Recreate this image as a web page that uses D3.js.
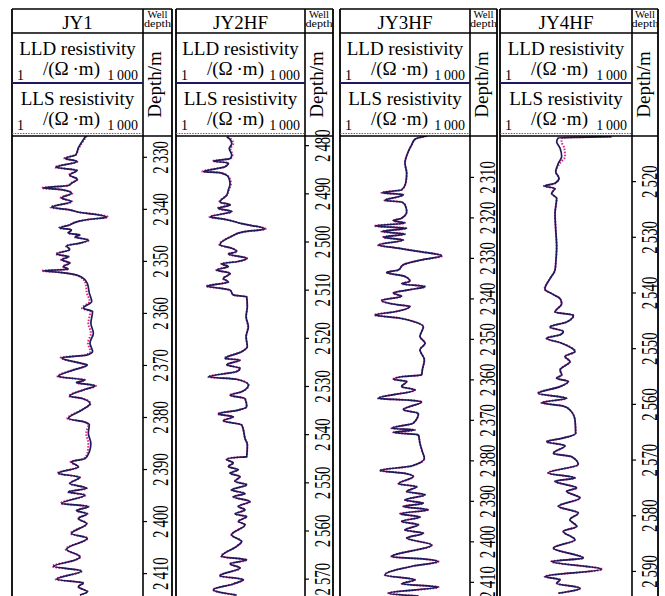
<!DOCTYPE html>
<html>
<head>
<meta charset="utf-8">
<script src="https://cdn.jsdelivr.net/npm/d3@7"></script>
<style>
  body { margin: 0; background: #fff; }
  svg { display: block; }
  svg text { font-family: "Liberation Serif", "Nimbus Roman", "DejaVu Serif", "Times New Roman", serif; }
</style>
</head>
<body>
<div id="chart"></div>
<script>
// well names, visible depth window (m) and depth tick labels
const wellNames = ['JY1', 'JY2HF', 'JY3HF', 'JY4HF'];
const depthWindows = [[2326, 2414.4], [2478.1, 2573.6], [2299.9, 2413.5], [2511.9, 2594.5]];
const depthTicks = [
    [2330, 2340, 2350, 2360, 2370, 2380, 2390, 2400, 2410],
    [2480, 2490, 2500, 2510, 2520, 2530, 2540, 2550, 2560, 2570],
    [2310, 2320, 2330, 2340, 2350, 2360, 2370, 2380, 2390, 2400, 2410],
    [2520, 2530, 2540, 2550, 2560, 2570, 2580, 2590]
];
const resistivityRange = [1, 1000];

// [depth m, LLD ohm.m, LLS ohm.m]
const jy1Log = [
    [2326.0, 49.5, 52], [2326.7, 43, 45], [2328.3, 33, 34], [2329.6, 29, 29], [2330.3, 16.4, 15.8],
    [2330.9, 31, 32], [2332.0, 10.2, 9.6], [2332.6, 31, 31], [2333.5, 21, 20], [2334.3, 31, 32],
    [2335.1, 23, 22], [2335.5, 19.5, 19], [2336.0, 5.2, 4.8], [2336.3, 13.7, 13], [2337.0, 23, 24],
    [2337.9, 13.7, 13], [2338.6, 23, 24], [2339.7, 8.1, 7.6], [2340.2, 21, 21], [2340.7, 36, 37],
    [2341.0, 73, 76], [2341.6, 148, 158], [2342.0, 61, 63], [2342.4, 33, 33], [2343.1, 21, 20],
    [2343.7, 12.5, 11.8], [2344.0, 23, 23], [2344.7, 19.5, 19], [2345.0, 36, 37], [2345.4, 28, 27],
    [2346.0, 56, 58], [2346.6, 36, 36], [2347.1, 17.8, 17], [2347.8, 21, 21], [2348.7, 10.5, 10],
    [2349.2, 19.5, 20], [2349.8, 13.7, 13.2], [2350.4, 21, 21], [2351.1, 15, 14.5], [2351.6, 19.5, 19],
    [2351.9, 5.2, 4.8], [2352.2, 12.5, 12], [2352.5, 23, 22], [2353.1, 39, 37], [2354.3, 53, 48],
    [2356.2, 59, 52], [2357.8, 67, 60], [2359.1, 43, 40], [2359.7, 70, 62], [2362.0, 64, 56],
    [2363.9, 73, 64], [2365.8, 61, 55], [2367.4, 70, 62], [2368.1, 51, 47], [2368.6, 13.7, 13],
    [2369.7, 39, 38], [2370.0, 53, 52], [2371.0, 25, 24], [2372.2, 11.5, 11], [2372.9, 47, 47],
    [2373.4, 30, 30], [2374.0, 80, 84], [2374.8, 43, 43], [2376.0, 21, 20], [2376.4, 39, 39],
    [2377.4, 61, 63], [2378.7, 39, 38], [2380.3, 19.5, 18.5], [2380.9, 43, 42], [2381.5, 59, 56],
    [2383.1, 56, 50], [2385.1, 64, 56], [2386.7, 59, 54], [2388.0, 47, 45], [2388.6, 23, 22],
    [2389.6, 33, 33], [2390.8, 11.5, 11], [2391.6, 36, 36], [2392.8, 21, 21], [2393.7, 51, 52],
    [2394.4, 19.5, 19], [2395.0, 47, 48], [2396.6, 13.7, 13], [2397.2, 56, 57], [2398.0, 30, 30],
    [2398.6, 53, 54], [2399.5, 33, 33], [2400.5, 51, 52], [2402.4, 23, 22], [2403.3, 53, 54],
    [2405.4, 17.8, 17], [2406.9, 36, 37], [2407.5, 28, 28], [2408.7, 8.9, 8.4], [2409.6, 39, 40],
    [2411.2, 10.5, 10], [2411.9, 43, 44], [2412.6, 33, 33], [2413.6, 53, 54], [2414.2, 36, 36]
];

const jy2Log = [
    [2478.3, 15.1, 16], [2478.8, 18.1, 19.5], [2479.7, 19.8, 21.5], [2480.7, 17.3, 18.5], [2482.1, 19.8, 20.5],
    [2482.8, 18.1, 18.5], [2483.3, 7.4, 7.1], [2483.7, 16.5, 16.5], [2484.5, 13.8, 13.6], [2485.5, 4.3, 4.1],
    [2485.7, 10.5, 10.3], [2486.6, 16.5, 16.8], [2488.0, 18.1, 19], [2489.3, 16.5, 17], [2490.4, 15.1, 15.1],
    [2491.8, 10.5, 10.2], [2492.4, 18.1, 18.1], [2493.1, 9.6, 9.3], [2493.8, 19.8, 19.8], [2494.9, 6.2, 6.0],
    [2495.4, 13.8, 13.8], [2496.3, 33.7, 34], [2497.4, 117, 122], [2498.0, 36.8, 37], [2498.9, 19.8, 19.8],
    [2500.7, 10.5, 10.2], [2501.4, 19.8, 19.8], [2502.1, 25.7, 26], [2502.6, 16.5, 16.3], [2503.5, 44.1, 45],
    [2504.2, 25.7, 25.7], [2504.6, 11.5, 11.2], [2505.2, 16.5, 16.5], [2505.9, 8.8, 8.6], [2506.6, 18.1, 18.3],
    [2507.7, 12.6, 12.4], [2508.4, 16.5, 16.5], [2509.3, 5.2, 5.0], [2509.7, 10.5, 10.5], [2510.1, 18.1, 18.1],
    [2511.1, 21.5, 21.5], [2511.5, 44.1, 44], [2513.5, 45.6, 45], [2515.6, 42.6, 43], [2517.7, 48.2, 47],
    [2519.8, 42.6, 43], [2521.8, 45.6, 45], [2522.9, 33.7, 33], [2524.3, 13.8, 13.4], [2524.6, 30.8, 30.8],
    [2525.6, 15.1, 15], [2526.3, 30.8, 31], [2527.0, 25.7, 25.7], [2528.1, 5.7, 5.5], [2528.6, 25.7, 25.7],
    [2529.8, 48.2, 49], [2531.2, 33.7, 33.7], [2531.9, 18.1, 18], [2532.6, 40.3, 40.3], [2534.3, 44.1, 44],
    [2535.0, 28.1, 28], [2535.8, 9.6, 9.3], [2536.4, 21.5, 21.5], [2537.2, 12.6, 12.4], [2538.1, 33.7, 33.7],
    [2539.1, 36.8, 36.8], [2540.9, 40.3, 40.3], [2542.2, 45.6, 45.6], [2544.7, 44.1, 44], [2544.8, 28.1, 28],
    [2545.2, 15.1, 14.8], [2546.0, 21.5, 21.5], [2546.7, 16.5, 16.3], [2547.4, 28.1, 28.1], [2548.1, 18.1, 18],
    [2548.8, 30.8, 30.8], [2549.8, 23.5, 23.5], [2550.5, 44.1, 45], [2551.6, 19.6, 19.4], [2552.3, 40.3, 40.3],
    [2553.0, 21.5, 21.5], [2554.0, 52.7, 53], [2555.0, 28.1, 28.1], [2555.7, 40.3, 40.3], [2556.6, 23.5, 23.5],
    [2557.1, 44.1, 44.1], [2558.1, 28.1, 28.1], [2558.8, 40.3, 40.3], [2560.9, 19.6, 19.4], [2562.3, 33.7, 33.7],
    [2563.3, 25.7, 25.7], [2565.4, 11.5, 11.2], [2566.1, 44.1, 44.5], [2566.9, 18.1, 18], [2567.8, 30.8, 30.8],
    [2569.4, 10.5, 10.2], [2570.2, 36.8, 37], [2571.1, 21.5, 21.5], [2572.3, 7.4, 7.2], [2573.4, 25.7, 25.7]
];

const jy3Log = [
    [2299.9, 100, 102], [2300.7, 53.8, 54], [2302.1, 45.0, 45], [2303.7, 37.8, 38], [2306.6, 31.6, 31.6],
    [2309.1, 34.6, 34.6], [2311.6, 32.7, 32.7], [2313.2, 26.4, 26.4], [2313.9, 9.2, 9.0], [2314.4, 28.9, 28.9],
    [2314.9, 22.2, 22.2], [2315.8, 10.9, 10.6], [2316.2, 26.4, 26.4], [2316.9, 31.6, 31.6], [2318.6, 34.6, 34.6],
    [2320.2, 26.4, 26.4], [2320.8, 17.0, 17.0], [2321.4, 31.6, 31.6], [2322.1, 6.4, 6.2], [2322.7, 34.6, 34.6],
    [2323.5, 9.2, 9.0], [2324.1, 31.6, 31.6], [2324.9, 10.0, 9.8], [2325.6, 28.9, 28.9], [2326.8, 7.7, 7.5],
    [2327.6, 22.2, 22.2], [2328.4, 64.4, 65], [2329.5, 222, 230], [2330.5, 76.6, 77], [2331.7, 28.9, 28.9],
    [2333.0, 22.2, 22.2], [2333.6, 11.9, 11.7], [2334.6, 31.6, 31.6], [2335.8, 41.1, 41.1], [2336.4, 26.4, 26.4],
    [2337.1, 91.6, 93], [2337.9, 37.8, 37.8], [2338.7, 17.0, 16.8], [2339.5, 26.4, 26.4], [2340.5, 9.2, 9.0],
    [2341.6, 22.2, 22.2], [2342.0, 41.1, 41.1], [2343.3, 18.6, 18.6], [2344.1, 6.4, 6.2], [2344.9, 24.3, 24.3],
    [2345.7, 49.2, 49.2], [2347.0, 83.8, 84], [2349.4, 70, 70], [2351.1, 91.6, 92], [2352.7, 70, 70],
    [2355.2, 88.5, 88.5], [2357.7, 79.3, 79.3], [2358.9, 76.6, 76.6], [2359.3, 28.9, 28.9], [2360.0, 17.0, 16.8],
    [2360.5, 34.6, 34.6], [2361.8, 26.4, 26.4], [2362.6, 53.8, 53.8], [2364.7, 7.7, 7.5], [2365.1, 34.6, 34.6],
    [2365.5, 76.6, 77], [2367.5, 28.9, 28.9], [2368.4, 64.4, 64.4], [2370.8, 49.2, 49.2], [2372.1, 15.5, 15.3],
    [2372.5, 53.8, 53.8], [2373.1, 17.0, 17.0], [2373.7, 64.4, 64.4], [2375.8, 70, 70], [2377.8, 79.3, 79.3],
    [2379.5, 88.5, 88.5], [2381.4, 45.0, 45.0], [2382.5, 8.4, 8.2], [2383.2, 31.6, 31.6], [2384.0, 49.2, 49.2],
    [2385.8, 22.2, 22.2], [2386.5, 58.9, 58.9], [2387.7, 34.6, 34.6], [2388.5, 91.6, 92], [2389.8, 31.6, 31.6],
    [2390.6, 83.8, 84], [2391.4, 28.9, 28.9], [2392.2, 109, 110], [2393.2, 24.3, 24.3], [2394.0, 70, 70],
    [2395.1, 26.4, 26.4], [2395.9, 64.4, 64.4], [2397.2, 31.6, 31.6], [2398.0, 83.8, 84], [2399.2, 34.6, 34.6],
    [2400.9, 130, 132], [2403.8, 15.5, 15.3], [2404.4, 91.6, 92], [2405.0, 185, 188], [2406.1, 49.2, 49.2],
    [2408.3, 10.9, 10.7], [2409.5, 53.8, 53.8], [2410.5, 26.4, 26.4], [2411.3, 185, 188], [2412.8, 13.1, 13.0],
    [2413.5, 64.4, 64.4]
];

const jy4Log = [
    [2512.0, 345, 330], [2512.25, 21.2, 26], [2512.9, 19.4, 25], [2514.1, 23.2, 29], [2515.6, 25.2, 30],
    [2516.8, 21.2, 23], [2518.3, 18.5, 18.5], [2519.5, 21.9, 21.9], [2520.4, 17.8, 17.8], [2520.9, 10.2, 9.9],
    [2521.3, 17.8, 17.8], [2522.2, 14.9, 14.9], [2523.1, 19.4, 19.4], [2525.8, 17.8, 17.8], [2528.8, 18.5, 18.5],
    [2531.8, 19.4, 19.4], [2534.2, 18.7, 18.7], [2536.0, 17.8, 17.8], [2537.5, 13.7, 13.7], [2539.4, 10.5, 10.3],
    [2540.2, 14.9, 14.9], [2541.1, 23.2, 23.2], [2542.0, 25.2, 25.2], [2543.5, 17.8, 17.8], [2544.1, 46.6, 47],
    [2545.3, 32.7, 32.7], [2546.2, 13.7, 13.5], [2547.0, 27.5, 27.5], [2547.6, 23.2, 23.2], [2548.2, 11.5, 11.3],
    [2549.1, 25.2, 25.2], [2550.6, 50.6, 51], [2551.5, 29.9, 29.9], [2552.4, 38.9, 38.9], [2553.9, 23.2, 23.2],
    [2554.8, 25.2, 25.2], [2555.4, 19.4, 19.4], [2556.0, 35.8, 35.8], [2556.9, 23.2, 23.2], [2558.1, 7.4, 7.2],
    [2559.0, 32.7, 32.7], [2559.8, 8.9, 8.7], [2560.4, 27.5, 27.5], [2561.1, 38.9, 38.9], [2562.9, 50.6, 50.6],
    [2565.3, 52.4, 52.4], [2566.2, 25.2, 25.2], [2566.8, 11.5, 11.3], [2567.5, 29.9, 29.9], [2568.9, 16.3, 16.3],
    [2569.5, 42.6, 42.6], [2570.9, 60.1, 60.1], [2572.4, 12.5, 12.3], [2573.3, 50.6, 50.6], [2573.9, 17.8, 17.8],
    [2575.1, 55.3, 55.3], [2575.7, 32.7, 32.7], [2576.9, 65.8, 66], [2578.4, 21.2, 21.2], [2579.6, 60.1, 60.1],
    [2580.8, 38.9, 38.9], [2582.0, 55.3, 55.3], [2582.9, 27.5, 27.5], [2584.4, 50.6, 50.6], [2585.9, 16.3, 16.3],
    [2587.7, 78.2, 79], [2588.3, 14.9, 14.7], [2589.7, 204, 210], [2591.0, 10.5, 10.3], [2591.6, 23.2, 23.2],
    [2592.2, 19.4, 19.4], [2593.1, 65.8, 66], [2594.0, 21.2, 21.2]
];

const wellLogs = [jy1Log, jy2Log, jy3Log, jy4Log];

// ---- layout ----
const W = 665, H = 596;
const panels = [
    { left: 12, depth: 143, right: 172 },
    { left: 176, depth: 305, right: 333 },
    { left: 340, depth: 470, right: 497 },
    { left: 500, depth: 632, right: 658 }
];
const frameTop = 9, rowTitle = 33, rowSplit = 83, plotTop = 136, plotBottom = H;
const lldColor = '#1e1b5c';
const llsColor = '#e0247f';
const serif = '"Liberation Serif", "Nimbus Roman", "DejaVu Serif", "Times New Roman", serif';

const fmt = d => {
    const s = String(d);
    return s.length === 4 ? s[0] + '\u2009' + s.slice(1) : s;
};

const svg = d3.select('#chart')
    .append('svg')
    .attr('width', W)
    .attr('height', H)
    .attr('font-family', serif);

svg.append('rect').attr('width', W).attr('height', H).attr('fill', '#fff');

panels.forEach((p, i) => {
    const g = svg.append('g').attr('class', 'well');
    const midX = (p.left + p.depth) / 2;
    const midD = (p.depth + p.right) / 2;

    const x = d3.scaleLog().domain(resistivityRange).range([p.left, p.depth]);
    const y = d3.scaleLinear().domain(depthWindows[i]).range([plotTop, plotBottom]);

    // clip for curves
    g.append('clipPath').attr('id', 'clip' + i)
        .append('rect')
        .attr('x', p.left).attr('y', plotTop)
        .attr('width', p.depth - p.left).attr('height', plotBottom - plotTop);

    const line = d3.line().curve(d3.curveMonotoneY);

    g.append('path')
        .datum(wellLogs[i])
        .attr('clip-path', `url(#clip${i})`)
        .attr('d', line.x(d => x(d[2])).y(d => y(d[0])))
        .attr('fill', 'none')
        .attr('stroke', llsColor)
        .attr('stroke-width', 2)
        .attr('stroke-dasharray', '1.5,1.5');

    g.append('path')
        .datum(wellLogs[i])
        .attr('clip-path', `url(#clip${i})`)
        .attr('d', line.x(d => x(d[1])).y(d => y(d[0])))
        .attr('fill', 'none')
        .attr('stroke', lldColor)
        .attr('stroke-width', 1.7)
        .attr('stroke-linejoin', 'round');

    // depth axis
    const axis = d3.axisRight(y)
        .tickValues(depthTicks[i])
        .tickSize(4)
        .tickFormat(fmt);
    const ax = g.append('g')
        .attr('transform', `translate(${p.depth},0)`)
        .call(axis)
        .attr('font-family', serif);
    ax.select('.domain').remove();
    ax.selectAll('.tick line').attr('stroke', '#000').attr('stroke-width', 1.2);
    ax.selectAll('.tick text')
        .attr('x', null).attr('dy', null)
        .attr('fill', '#000')
        .attr('font-size', 24)
        .attr('text-anchor', 'middle')
        .attr('transform', 'translate(25,0) rotate(-90) scale(0.62,1)');

    // frame lines
    const frame = g.append('g').attr('stroke', '#000').attr('fill', 'none');
    frame.append('line').attr('x1', p.left).attr('x2', p.left).attr('y1', frameTop).attr('y2', H).attr('stroke-width', 1.8);
    frame.append('line').attr('x1', p.right).attr('x2', p.right).attr('y1', frameTop).attr('y2', H).attr('stroke-width', 1.8);
    frame.append('line').attr('x1', p.depth).attr('x2', p.depth).attr('y1', frameTop).attr('y2', H).attr('stroke-width', 1.6);
    frame.append('line').attr('x1', p.left).attr('x2', p.right).attr('y1', frameTop).attr('y2', frameTop).attr('stroke-width', 1.6);
    frame.append('line').attr('x1', p.left).attr('x2', p.right).attr('y1', rowTitle).attr('y2', rowTitle).attr('stroke-width', 1.3);
    frame.append('line').attr('x1', p.left).attr('x2', p.right).attr('y1', plotTop).attr('y2', plotTop).attr('stroke-width', 1.6);

    // legend lines
    g.append('line')
        .attr('x1', p.left).attr('x2', p.depth).attr('y1', rowSplit).attr('y2', rowSplit)
        .attr('stroke', lldColor).attr('stroke-width', 2);
    g.append('line')
        .attr('x1', p.left).attr('x2', p.depth).attr('y1', plotTop - 2.5).attr('y2', plotTop - 2.5)
        .attr('stroke', llsColor).attr('stroke-width', 1.2).attr('stroke-dasharray', '1.5,1.2');

    // header texts
    g.append('text').attr('x', midX).attr('y', 29)
        .attr('text-anchor', 'middle').attr('font-size', 19).text(wellNames[i]);

    g.append('text').attr('x', midD).attr('y', 17.5)
        .attr('text-anchor', 'middle').attr('font-size', 10.5)
        .attr('textLength', 20).attr('lengthAdjust', 'spacingAndGlyphs').text('Well');
    g.append('text').attr('x', midD).attr('y', 27)
        .attr('text-anchor', 'middle').attr('font-size', 10.5)
        .attr('textLength', 27).attr('lengthAdjust', 'spacingAndGlyphs').text('depth');

    g.append('text')
        .attr('transform', `translate(${p.depth + 18},${(rowTitle + plotTop) / 2}) rotate(-90)`)
        .attr('text-anchor', 'middle').attr('font-size', 19).text('Depth/m');

    [['LLD', 0], ['LLS', 50]].forEach(([name, off]) => {
        g.append('text').attr('x', midX).attr('y', 55 + off)
            .attr('text-anchor', 'middle').attr('font-size', 19).text(name + ' resistivity');
        g.append('text').attr('x', p.left + 31).attr('y', 75 + off)
            .attr('font-size', 19).text('/(\u03A9\u2009\u00B7m)');
        g.append('text').attr('x', p.left + 5).attr('y', 80 + off)
            .attr('font-size', 14).text(resistivityRange[0]);
        g.append('text').attr('x', p.depth - 5).attr('y', 80 + off)
            .attr('text-anchor', 'end').attr('font-size', 14).text('1\u2009000');
    });
});
</script>
</body>
</html>
